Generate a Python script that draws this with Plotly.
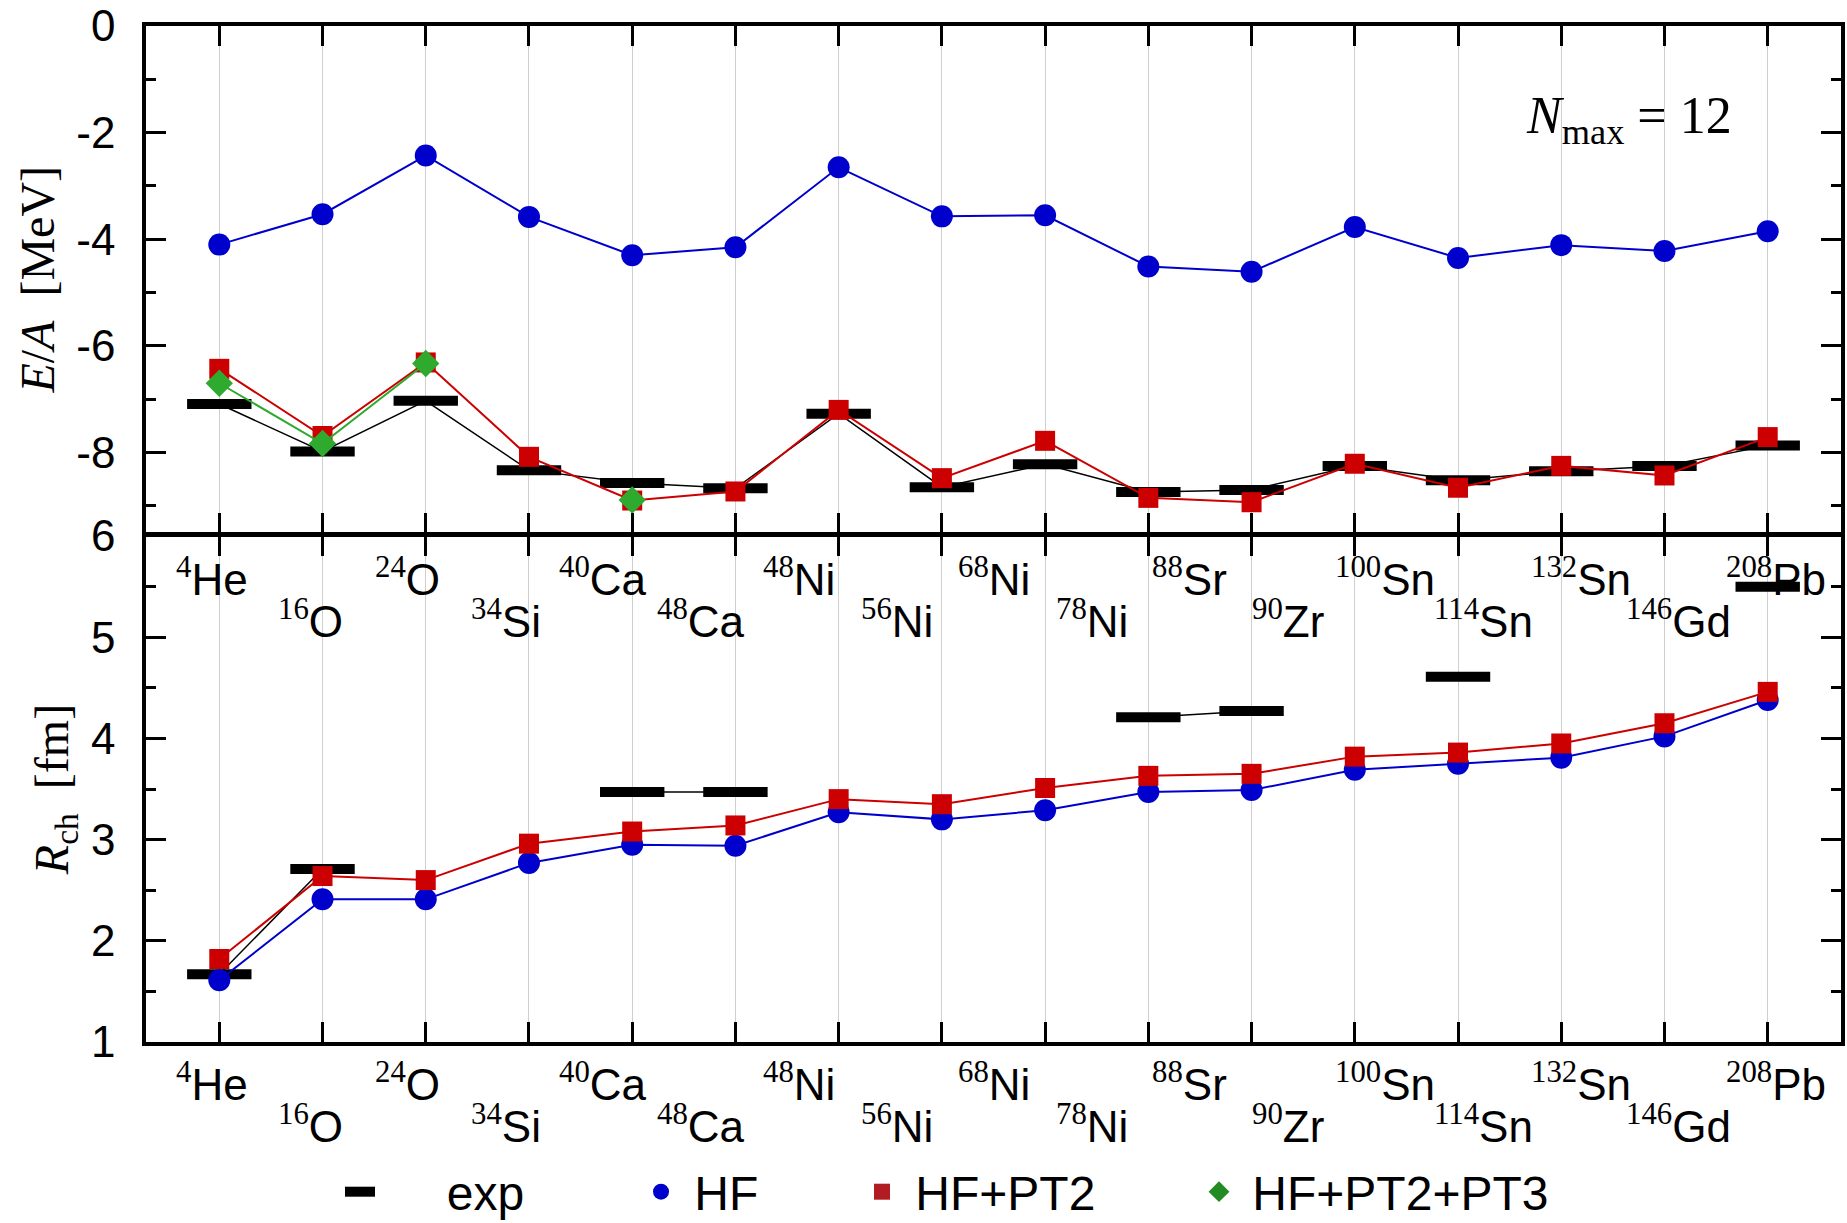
import plotly.graph_objects as go

# ---------------- data ----------------
idx = list(range(1, 17))  # positions of the 16 computed nuclei

# tick-label nuclei (17 labels, drawn evenly spaced as in the original)
mass_numbers = ["4", "16", "24", "34", "40", "48", "48", "56", "68", "78",
                "88", "90", "100", "114", "132", "146", "208"]
elements = ["He", "O", "O", "Si", "Ca", "Ca", "Ni", "Ni", "Ni", "Ni",
            "Sr", "Zr", "Sn", "Sn", "Sn", "Gd", "Pb"]

# E/A [MeV]
ea_exp = [-7.09, -7.98, -7.03, -8.33, -8.57, -8.67, -7.27, -8.65, -8.22, -8.74,
          -8.70, -8.25, -8.52, -8.35, -8.25, -7.87]
ea_hf = [-4.10, -3.53, -2.43, -3.58, -4.30, -4.15, -2.65, -3.57, -3.55, -4.51,
         -4.61, -3.77, -4.35, -4.11, -4.22, -3.85]
ea_pt2 = [-6.43, -7.69, -6.31, -8.08, -8.90, -8.73, -7.20, -8.48, -7.78, -8.85,
          -8.93, -8.21, -8.66, -8.25, -8.43, -7.71]
ea_pt3 = [-6.70, -7.83, -6.33, None, -8.89, None, None, None, None, None,
          None, None, None, None, None, None]

# R_ch [fm]
r_exp = [1.67, 2.71, None, None, 3.47, 3.47, None, None, None, 4.21,
         4.27, None, 4.61, None, None, 5.50]
r_hf = [1.61, 2.41, 2.41, 2.77, 2.95, 2.94, 3.27, 3.20, 3.29, 3.47,
        3.49, 3.69, 3.75, 3.81, 4.02, 4.38]
r_pt2 = [1.82, 2.64, 2.60, 2.96, 3.08, 3.14, 3.40, 3.35, 3.51, 3.63,
         3.65, 3.82, 3.86, 3.95, 4.15, 4.46]

ea_tickvals = [0, -2, -4, -6, -8]
ea_ticktext = ["0", "-2", "-4", "-6", "-8"]
r_tickvals = [1, 2, 3, 4, 5, 6]
r_ticktext = ["1", "2", "3", "4", "5", "6"]

# ---------------- styles ----------------
BLUE = "#0000CC"
RED = "#CC0000"
GREEN = "#2EAA2E"
SANS = "Liberation Sans"
SERIF = "Liberation Serif"

fig = go.Figure()


def add_series(xa, ya, exp, hf, pt2, pt3=None):
    fig.add_trace(go.Scatter(
        x=idx, y=exp, xaxis=xa, yaxis=ya, mode="lines+markers",
        line=dict(color="black", width=1.5),
        marker=dict(symbol="line-ew", size=46, color="black",
                    line=dict(width=10, color="black")),
        showlegend=False, connectgaps=False))
    fig.add_trace(go.Scatter(
        x=idx, y=hf, xaxis=xa, yaxis=ya, mode="lines+markers",
        line=dict(color=BLUE, width=2),
        marker=dict(symbol="circle", size=22, color=BLUE),
        showlegend=False))
    fig.add_trace(go.Scatter(
        x=idx, y=pt2, xaxis=xa, yaxis=ya, mode="lines+markers",
        line=dict(color=RED, width=2),
        marker=dict(symbol="square", size=20, color=RED),
        showlegend=False))
    if pt3 is not None:
        fig.add_trace(go.Scatter(
            x=idx, y=pt3, xaxis=xa, yaxis=ya, mode="lines+markers",
            line=dict(color=GREEN, width=2),
            marker=dict(symbol="diamond", size=21, color=GREEN),
            showlegend=False, connectgaps=False))


add_series("x", "y", ea_exp, ea_hf, ea_pt2, ea_pt3)
add_series("x2", "y2", r_exp, r_hf, r_pt2)

NB = "\u00a0"
# legend entries (one legend each, to place them like the original)
fig.add_trace(go.Scatter(x=[None], y=[None], mode="lines", name=NB * 5 + "exp",
                         line=dict(color="black", width=10), legend="legend"))
fig.add_trace(go.Scatter(x=[None], y=[None], mode="markers", name=NB + "HF",
                         marker=dict(symbol="circle", size=16, color=BLUE),
                         legend="legend2"))
fig.add_trace(go.Scatter(x=[None], y=[None], mode="markers", name=NB + "HF+PT2",
                         marker=dict(symbol="square", size=16, color="#B01C22"),
                         legend="legend3"))
fig.add_trace(go.Scatter(x=[None], y=[None], mode="markers",
                         name=NB + "HF+PT2+PT3",
                         marker=dict(symbol="diamond", size=16, color="#228B22"),
                         legend="legend4"))

W, H = 1847, 1223
L, R, T, B = 146, 6, 26, 181
PLOT_H = H - T - B
split = 0.498
LW = 3.5
gap = LW / PLOT_H

xcommon = dict(range=[0.29, 16.71], tickmode="array", tickvals=idx,
               showticklabels=False, ticks="inside", ticklen=20, tickwidth=3,
               tickcolor="black", showline=True, linewidth=LW,
               linecolor="black", mirror="allticks", showgrid=True,
               gridcolor="#CFCFCF", gridwidth=1, zeroline=False)
ycommon = dict(ticks="inside", ticklen=20, tickwidth=3, tickcolor="black",
               showline=True, linewidth=LW, linecolor="black",
               mirror="allticks", showgrid=False, zeroline=False,
               tickfont=dict(family=SANS, size=44, color="black"),
               ticklabelstandoff=18,
               title_font=dict(family=SERIF, size=48, color="black"),
               title_standoff=8)

legend_common = dict(orientation="h", yref="container", yanchor="middle",
                     y=1 - 1192 / H, xanchor="left", bgcolor="rgba(0,0,0,0)",
                     font=dict(family=SANS, size=48, color="black"),
                     itemwidth=30)


def px_to_paper_x(px):
    return (px - L) / (W - L - R)


fig.update_layout(
    width=W, height=H,
    margin=dict(l=L, r=R, t=T, b=B, pad=0, autoexpand=False),
    paper_bgcolor="white", plot_bgcolor="white",
    xaxis=dict(anchor="y", domain=[0, 1], **xcommon),
    xaxis2=dict(anchor="y2", domain=[0, 1], **xcommon),
    yaxis=dict(anchor="x", domain=[split + gap, 1], range=[-9.5, 0],
               tickmode="array", tickvals=ea_tickvals, ticktext=ea_ticktext,
               minor=dict(ticks="inside", ticklen=10, tickwidth=3,
                          tickcolor="black", dtick=1, tick0=0),
               title_text="<i>E</i>/<i>A</i>\u00a0\u00a0[MeV]", **ycommon),
    yaxis2=dict(anchor="x2", domain=[0, split], range=[1, 6],
                tickmode="array", tickvals=r_tickvals, ticktext=r_ticktext,
                minor=dict(ticks="inside", ticklen=10, tickwidth=3,
                           tickcolor="black", dtick=0.5, tick0=0),
                title_text="<i>R</i><sub>ch</sub>\u00a0\u00a0[fm]", **ycommon),
    legend=dict(x=px_to_paper_x(340), **legend_common),
    legend2=dict(x=px_to_paper_x(641), **legend_common),
    legend3=dict(x=px_to_paper_x(862), **legend_common),
    legend4=dict(x=px_to_paper_x(1199), **legend_common),
)

# nucleus labels: two staggered rows, inside the lower panel top and below it
label_x0, label_dx = 0.932, 0.947
rows_inside = [0.4577, 0.4163]
rows_below = [-0.0394, -0.0807]
for i, (a, el) in enumerate(zip(mass_numbers, elements)):
    txt = ("<sup style=\"font-family:'Liberation Serif'\">" + a +
           "</sup>" + el)
    for rows in (rows_inside, rows_below):
        fig.add_annotation(x=label_x0 + label_dx * i, xref="x2",
                           y=rows[i % 2], yref="paper", text=txt,
                           showarrow=False, xanchor="center", yanchor="middle",
                           font=dict(family=SANS, size=44, color="black"))

fig.add_annotation(x=14.66, xref="x", y=-1.75, yref="y",
                   text="<i>N</i><sub>max</sub> = 12", showarrow=False,
                   xanchor="center", yanchor="middle",
                   font=dict(family=SERIF, size=52, color="black"))

fig.write_html("out.html")
